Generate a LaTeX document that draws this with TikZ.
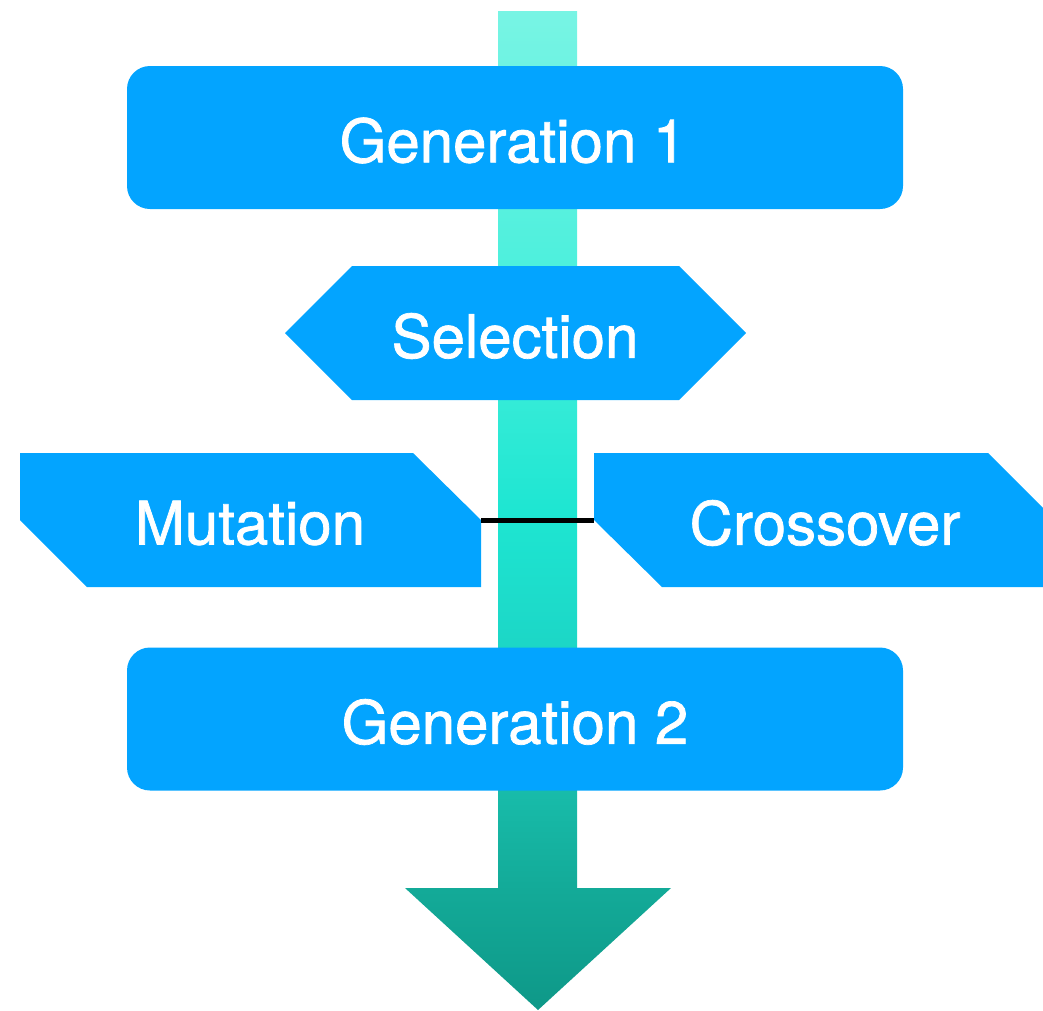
\documentclass[tikz,border=0pt]{standalone}
\usepackage{fontspec}
\setmainfont[FakeBold=1.2]{TeX Gyre Heros}

\definecolor{boxblue}{RGB}{3,164,255}
\definecolor{flowA}{RGB}{120,244,228}
\definecolor{flowB}{RGB}{70,239,219}
\definecolor{flowC}{RGB}{30,230,210}
\definecolor{flowD}{RGB}{28,214,198}
\definecolor{flowE}{RGB}{24,188,170}
\definecolor{flowF}{RGB}{19,170,152}
\definecolor{flowG}{RGB}{14,152,136}

% vertical colour ramp of the process arrow (25bp = bottom, 75bp = top)
\pgfdeclareverticalshading{flowshade}{100bp}{%
  color(0bp)=(flowG); color(25bp)=(flowG); color(31bp)=(flowF);
  color(36bp)=(flowE); color(43bp)=(flowD); color(50bp)=(flowC);
  color(60bp)=(flowB); color(75bp)=(flowA); color(100bp)=(flowA)}

\tikzset{
  label text/.style={text=white, font=\fontsize{60}{70}\selectfont, inner sep=0pt},
  stage fill/.style={fill=boxblue, draw=none},
  genbox/.style={stage fill, rounded corners=23pt, minimum width=776pt,
    minimum height=143pt},
  link/.style={draw=black, line width=5pt},
}

\begin{document}
\begin{tikzpicture}[x=1pt, y=-1pt]
  \clip (0,0) rectangle (1043,1010);

  % process arrow running down behind the stages
  \path[shading=flowshade]
    (498,11) -- (577,11) -- (577,888) -- (671,888) -- (538,1010)
    -- (405,888) -- (498,888) -- cycle;

  % generations
  \node[genbox] (gen1) at (515,137.5) {};
  \node[label text] (gen1txt) at (513,140.5) {Generation 1};
  \node[genbox] (gen2) at (515,719) {};
  \node[label text] (gen2txt) at (515,722) {Generation 2};

  % selection (hexagon)
  \path[stage fill] (285,333) -- (352,266) -- (679,266) -- (746,333)
    -- (679,400) -- (352,400) -- cycle;
  \node[label text] (sel) at (515,336) {Selection};

  % mutation
  \path[stage fill] (20,453) -- (413,453) -- (481,520) -- (481,587)
    -- (87,587) -- (20,520) -- cycle;
  \node[label text] (mut) at (250,523) {Mutation};
  \coordinate (mutR) at (481,520);

  % crossover
  \path[stage fill] (594,453) -- (988,453) -- (1055,520) -- (1055,587)
    -- (662,587) -- (594,520) -- cycle;
  \node[label text] (cross) at (825,523) {Crossover};
  \coordinate (crossL) at (594,520);

  \draw[link] (mutR) -- (crossL);
\end{tikzpicture}
\end{document}
